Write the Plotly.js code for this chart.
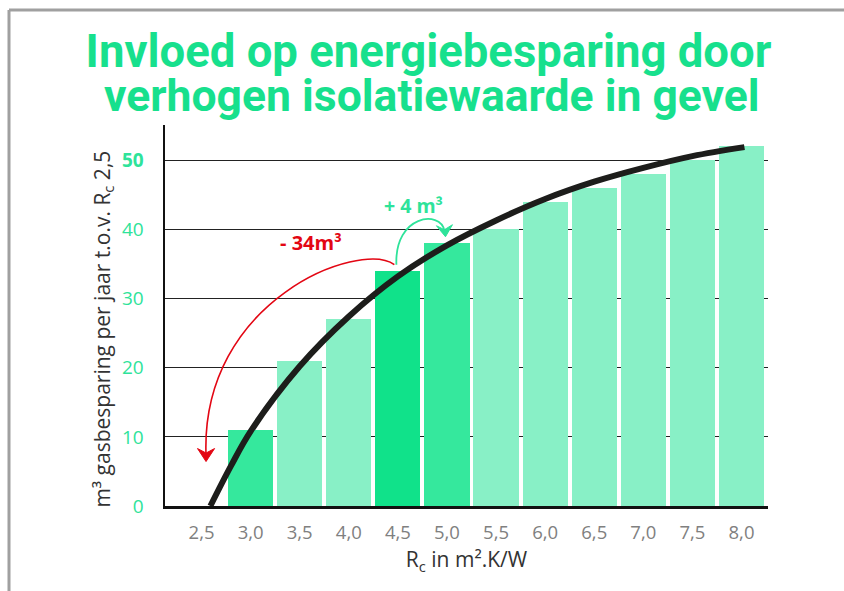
<!DOCTYPE html>
<html>
<head>
<meta charset="utf-8">
<script src="https://cdn.plot.ly/plotly-3.0.1.min.js"></script>
<style>html,body{margin:0;padding:0;background:#fff;}#chart{width:844px;height:591px;}</style>
</head>
<body>
<div id="chart"></div>
<script>
// Data
const rcValues = [3.0, 3.5, 4.0, 4.5, 5.0, 5.5, 6.0, 6.5, 7.0, 7.5, 8.0];
const savings = [11, 21, 27, 34, 38, 40, 44, 46, 48, 50, 52];
const barShade = ["mid", "light", "light", "dark", "mid", "light", "light", "light", "light", "light", "light"];
const curveX = [2.59, 2.8, 3.0, 3.5, 4.0, 4.5, 5.0, 5.5, 6.0, 6.5, 7.0, 7.5, 8.03];
const curveY = [0, 5.8, 10.8, 20.2, 27.4, 33.2, 37.7, 41.3, 44.4, 46.9, 48.9, 50.6, 51.9];
const xTickVals = [2.5, 3.0, 3.5, 4.0, 4.5, 5.0, 5.5, 6.0, 6.5, 7.0, 7.5, 8.0];
const xTickText = ["2,5", "3,0", "3,5", "4,0", "4,5", "5,0", "5,5", "6,0", "6,5", "7,0", "7,5", "8,0"];
const yTickVals = [0, 10, 20, 30, 40, 50];
const yTickText = ["0", "10", "20", "30", "40", "<b>50</b>"];
const titleLines = ["Invloed op energiebesparing door", "verhogen isolatiewaarde in gevel"];

const shadeColors = {dark: "#10e28a", mid: "#35e89d", light: "#88f0c6"};
const GREEN = "#2ee39a";
const TITLE_GREEN = "#17e08d";
const RED = "#e30613";

const traces = [
  {
    type: "bar",
    x: rcValues,
    y: savings,
    width: 0.46,
    marker: {color: barShade.map(s => shadeColors[s]), line: {width: 0}},
    hoverinfo: "x+y"
  },
  {
    type: "scatter",
    mode: "lines",
    x: curveX,
    y: curveY,
    line: {color: "#1d1d1b", width: 6, shape: "spline", smoothing: 1},
    hoverinfo: "skip"
  }
];

const layout = {
  width: 844,
  height: 591,
  margin: {l: 165, r: 76, t: 125, b: 85},
  paper_bgcolor: "#ffffff",
  plot_bgcolor: "#ffffff",
  showlegend: false,
  bargap: 0,
  title: {
    text: titleLines[0],
    font: {family: "Roboto", size: 45.5, color: TITLE_GREEN, weight: 700},
    xref: "container", yref: "container",
    x: 0.5077, xanchor: "center",
    y: 0.9137, yanchor: "middle"
  },
  xaxis: {
    type: "linear",
    range: [2.128, 8.27],
    tickvals: xTickVals,
    ticktext: xTickText,
    tickfont: {family: "Open Sans", size: 18.5, color: "#808080"},
    ticks: "",
    ticklabelstandoff: 8,
    showgrid: false,
    zeroline: false,
    showline: true,
    linecolor: "#111111",
    linewidth: 3,
    title: {
      text: "R<sub>c</sub> in m².K/W",
      font: {family: "Open Sans", size: 21, color: "#333333"},
      standoff: 10
    }
  },
  yaxis: {
    range: [0, 55.1],
    tickvals: yTickVals,
    ticktext: yTickText,
    tickfont: {family: "Open Sans", size: 19, color: GREEN},
    ticks: "",
    ticklabelstandoff: 15,
    showgrid: true,
    gridcolor: "#222222",
    gridwidth: 1,
    zeroline: false,
    showline: true,
    linecolor: "#111111",
    linewidth: 2.5,
    title: {
      text: "m³ gasbesparing per jaar t.o.v. R<sub>c</sub> 2,5&nbsp;&nbsp;&nbsp;&nbsp;&nbsp;",
      font: {family: "Open Sans", size: 21, color: "#333333"},
      standoff: 6
    }
  },
  shapes: [
    // frame
    {type: "line", xref: "paper", yref: "paper", x0: -0.2587, x1: 1.13, y0: 1.3018, y1: 1.3018, line: {color: "#a0a0a0", width: 3}},
    {type: "line", xref: "paper", yref: "paper", x0: -0.2587, x1: -0.2587, y0: 1.3018, y1: -0.23, line: {color: "#a0a0a0", width: 3}},
    // red curved arrow
    {type: "path", xref: "x", yref: "y", path: "M 4.464 34.90 C 4.117 38.51, 2.485 29.84, 2.546 7.30", line: {color: RED, width: 1.6}},
    {type: "path", xref: "x", yref: "y", path: "M 2.546 6.43 L 2.459 8.31 L 2.546 7.66 L 2.633 8.31 Z", fillcolor: RED, line: {color: RED, width: 1}},
    // green curved arrow
    {type: "path", xref: "x", yref: "y", path: "M 4.485 34.90 C 4.464 42.12, 4.934 42.85, 4.974 39.81", line: {color: GREEN, width: 1.8}},
    {type: "path", xref: "x", yref: "y", path: "M 4.985 38.94 L 4.893 40.53 L 4.974 39.96 L 5.056 40.68 Z", fillcolor: GREEN, line: {color: GREEN, width: 1}}
  ],
  annotations: [
    {xref: "paper", yref: "paper", x: 0.4428, y: 1.0761, xanchor: "center", yanchor: "middle",
     text: titleLines[1], showarrow: false,
     font: {family: "Roboto", size: 44.5, color: TITLE_GREEN, weight: 700}},
    {xref: "x", yref: "y", x: 3.617, y: 38.08, text: "<b>- 34m³</b>", showarrow: false,
     font: {family: "Open Sans", size: 20, color: RED}},
    {xref: "x", yref: "y", x: 4.658, y: 43.43, text: "<b>+ 4 m³</b>", showarrow: false,
     font: {family: "Open Sans", size: 19.5, color: GREEN}}
  ]
};

Plotly.newPlot("chart", traces, layout, {displayModeBar: false, staticPlot: true});
</script>
</body>
</html>
